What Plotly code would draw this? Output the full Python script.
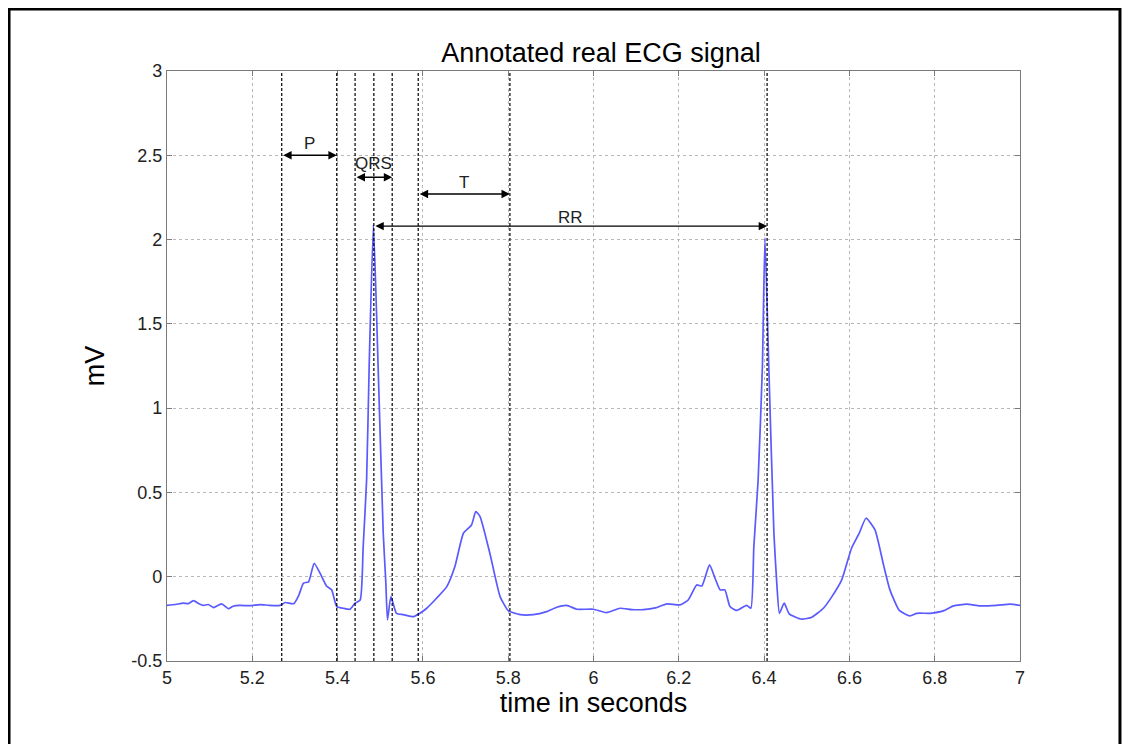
import plotly.graph_objects as go

# ECG samples (time in s, amplitude in mV)
time_s = [
    5.000, 5.020, 5.038, 5.050, 5.062, 5.075, 5.085, 5.097, 5.109, 5.128,
    5.144, 5.155, 5.171, 5.195, 5.218, 5.240, 5.265, 5.277, 5.297, 5.309,
    5.320, 5.332, 5.345, 5.359, 5.374, 5.386, 5.398, 5.413, 5.429, 5.441,
    5.453, 5.460, 5.468, 5.474, 5.484, 5.495, 5.507, 5.513, 5.517, 5.525,
    5.538, 5.554, 5.578, 5.593, 5.609, 5.632, 5.656, 5.675, 5.695, 5.714,
    5.724, 5.734, 5.757, 5.781, 5.800, 5.828, 5.859, 5.890, 5.914, 5.937,
    5.961, 6.000, 6.031, 6.062, 6.090, 6.117, 6.145, 6.172, 6.203, 6.222,
    6.242, 6.254, 6.272, 6.285, 6.297, 6.308, 6.320, 6.336, 6.359, 6.369,
    6.376, 6.386, 6.396, 6.402, 6.411, 6.423, 6.430, 6.436, 6.447, 6.459,
    6.488, 6.512, 6.539, 6.559, 6.582, 6.605, 6.623, 6.639, 6.660, 6.680,
    6.695, 6.717, 6.742, 6.758, 6.789, 6.820, 6.844, 6.875, 6.906, 6.945,
    6.977, 7.000,
]
ecg_mv = [
    -0.170, -0.165, -0.157, -0.160, -0.142, -0.160, -0.170, -0.165, -0.183, -0.161,
    -0.190, -0.175, -0.170, -0.172, -0.165, -0.170, -0.170, -0.153, -0.160, -0.110,
    -0.038, -0.030, 0.080, 0.020, -0.055, -0.078, -0.177, -0.187, -0.193, -0.157,
    -0.138, 0.180, 0.574, 1.246, 2.090, 1.246, 0.258, -0.030, -0.256, -0.118,
    -0.217, -0.225, -0.237, -0.217, -0.187, -0.128, -0.059, 0.060, 0.258, 0.307,
    0.386, 0.357, 0.139, -0.118, -0.201, -0.225, -0.225, -0.207, -0.181, -0.170,
    -0.193, -0.193, -0.213, -0.187, -0.195, -0.195, -0.185, -0.161, -0.167, -0.138,
    -0.049, -0.055, 0.070, -0.009, -0.078, -0.078, -0.177, -0.200, -0.170, -0.187,
    0.180, 0.574, 1.246, 2.010, 1.246, 0.258, -0.050, -0.217, -0.157, -0.220,
    -0.252, -0.240, -0.187, -0.118, -0.019, 0.169, 0.258, 0.347, 0.278, 0.070,
    -0.078, -0.200, -0.232, -0.217, -0.217, -0.203, -0.173, -0.163, -0.173, -0.170,
    -0.163, -0.170,
]

# annotation markers (vertical dashed lines)
marker_times = [5.269, 5.398, 5.441, 5.485, 5.528, 5.589, 5.804, 6.407]

# interval arrows: label, start, end, arrow level, label level
intervals = [
    ("P", 5.269, 5.398, 2.50, 2.57),
    ("QRS", 5.441, 5.528, 2.37, 2.45),
    ("T", 5.589, 5.804, 2.27, 2.34),
    ("RR", 5.485, 6.407, 2.08, 2.13),
]

FONT = "Liberation Sans, Arial, sans-serif"

fig = go.Figure()

fig.add_trace(go.Scatter(x=time_s, y=ecg_mv, mode="lines",
                         line=dict(color="#5a5aff", width=1.7, shape="spline", smoothing=0.5),
                         showlegend=False, hoverinfo="skip"))

for t in marker_times:
    fig.add_shape(type="line", xref="x", yref="y", x0=t, x1=t, y0=-0.5, y1=3,
                  line=dict(color="black", width=1.2, dash="3px,2px"))

for label, x0, x1, ya, yl in intervals:
    fig.add_annotation(x=x1, y=ya, ax=x0, ay=ya, xref="x", yref="y",
                       axref="x", ayref="y", text="", showarrow=True,
                       arrowhead=2, startarrowhead=2, arrowside="end+start",
                       arrowsize=1.2, arrowwidth=1.4, arrowcolor="black")
    fig.add_annotation(x=(x0 + x1) / 2, y=yl, xref="x", yref="y", text=label,
                       showarrow=False, font=dict(family=FONT, size=17, color="#222"))

# outer figure frame
fig.add_shape(type="rect", xref="paper", yref="paper",
              x0=-0.1852, x1=1.1172, y0=-0.3, y1=1.1051,
              line=dict(color="black", width=3), layer="above")

axis_common = dict(showgrid=True, gridcolor="#b8b8b8", griddash="dot", gridwidth=1,
                   zeroline=False, showline=True, linecolor="#7a7a7a", linewidth=1.2,
                   mirror="ticks", ticks="inside", ticklen=5, tickcolor="#7a7a7a",
                   tickfont=dict(family=FONT, size=18, color="#222"))

fig.update_layout(
    width=1133, height=744,
    margin=dict(l=159, r=121, t=63, b=91),
    paper_bgcolor="white", plot_bgcolor="white",
    title=dict(text="Annotated real ECG signal", x=(601 - 8) / 1133, xanchor="center",
               y=1 - 45 / 744, yanchor="middle",
               font=dict(family=FONT, size=27, color="black")),
    xaxis=dict(range=[5, 7], tickvals=[5, 5.2, 5.4, 5.6, 5.8, 6, 6.2, 6.4, 6.6, 6.8, 7],
               ticktext=["5", "5.2", "5.4", "5.6", "5.8", "6", "6.2", "6.4", "6.6", "6.8", "7"],
               title=dict(text="time in seconds", standoff=4,
                          font=dict(family=FONT, size=27, color="black")),
               **axis_common),
    yaxis=dict(range=[-0.5, 3], tickvals=[-0.5, 0, 0.5, 1, 1.5, 2, 2.5, 3],
               ticktext=["-0.5", "0", "0.5", "1", "1.5", "2", "2.5", "3"],
               title=dict(text="mV", standoff=18,
                          font=dict(family=FONT, size=27, color="black")),
               **axis_common),
)

fig.write_html("out.html")
